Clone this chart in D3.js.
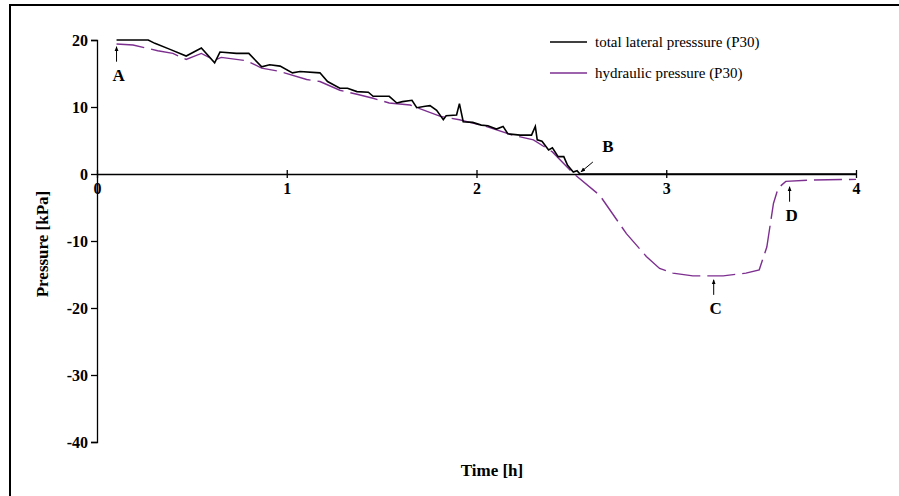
<!DOCTYPE html>
<html>
<head>
<meta charset="utf-8">
<script src="https://cdn.jsdelivr.net/npm/d3@7"></script>
<style>
  body { margin: 0; background: #fff; }
  svg { display: block; }
  text { font-family: "Liberation Serif", "DejaVu Serif", serif; }
</style>
</head>
<body>
<svg id="chart" width="899" height="496"></svg>
<script>
// total lateral pressure (P30) - time [h], pressure [kPa]
const totalTime = [0.103, 0.27, 0.305, 0.385, 0.47, 0.55, 0.62, 0.648, 0.735, 0.80, 0.868, 0.91, 0.965, 1.03, 1.07, 1.175, 1.215, 1.28, 1.32, 1.37, 1.43, 1.455, 1.54, 1.58, 1.61, 1.66, 1.685, 1.73, 1.755, 1.79, 1.825, 1.84, 1.895, 1.91, 1.93, 1.98, 2.025, 2.06, 2.105, 2.14, 2.165, 2.23, 2.29, 2.31, 2.32, 2.345, 2.38, 2.40, 2.43, 2.46, 2.48, 2.51, 2.53, 2.545, 4.0];
const totalPress = [20, 20, 19.5, 18.6, 17.6, 18.8, 16.6, 18.2, 18.0, 18.0, 16.0, 16.3, 16.1, 15.1, 15.3, 15.1, 13.8, 12.8, 12.8, 12.3, 12.2, 11.6, 11.6, 10.6, 10.8, 11.0, 9.9, 10.1, 10.2, 9.5, 8.1, 8.7, 8.8, 10.5, 7.8, 7.7, 7.3, 7.2, 6.7, 7.1, 6.0, 5.8, 5.8, 7.1, 5.1, 4.9, 3.6, 3.9, 2.6, 2.6, 1.3, 0.3, 0.5, 0, 0];

// hydraulic pressure (P30)
const hydTime = [0.103, 0.19, 0.32, 0.40, 0.47, 0.55, 0.62, 0.655, 0.79, 0.868, 0.965, 1.105, 1.175, 1.28, 1.37, 1.455, 1.54, 1.65, 1.81, 1.91, 2.05, 2.19, 2.30, 2.40, 2.51, 2.65, 2.79, 2.895, 2.965, 3.035, 3.14, 3.30, 3.42, 3.49, 3.53, 3.565, 3.59, 3.63, 3.76, 4.0];
const hydPress = [19.4, 19.25, 18.4, 18.0, 17.1, 18.0, 17.0, 17.4, 16.9, 15.8, 15.3, 14.1, 13.8, 12.5, 11.9, 11.3, 10.6, 10.3, 8.6, 8.1, 7.1, 5.8, 5.1, 3.3, 0.1, -3.2, -8.9, -12.3, -14.1, -14.8, -15.2, -15.2, -14.8, -14.3, -10.9, -4.4, -2.1, -1.1, -0.9, -0.8];

const xTicks = [0, 1, 2, 3, 4];
const yTicks = [20, 10, 0, -10, -20, -30, -40];

const seriesNames = ["total lateral presssure (P30)", "hydraulic pressure (P30)"];
const seriesColors = ["#000000", "#7d2f90"];

// point annotations: label, time, pressure at arrow tip, direction
const notes = [
  { label: "A", t: 0.103, p: 19.0, dir: "up" },
  { label: "B", t: 2.55, p: 0.3, dir: "diag" },
  { label: "C", t: 3.25, p: -15.8, dir: "up" },
  { label: "D", t: 3.65, p: -1.9, dir: "up" }
];

const svg = d3.select("#chart");

// outer frame (left and top edges)
svg.append("path")
  .attr("d", "M10,496V5H899")
  .attr("fill", "none")
  .attr("stroke", "#000")
  .attr("stroke-width", 2);

const x = d3.scaleLinear().domain([0, 4]).range([97, 856]);
const y = d3.scaleLinear().domain([-40, 20]).range([442, 40]);

// y axis
const gy = svg.append("g")
  .attr("transform", `translate(${x(0)},0)`)
  .call(d3.axisLeft(y).tickValues(yTicks).tickSize(6).tickFormat(d => String(d)));
gy.attr("font-family", null);
gy.select(".domain").attr("stroke-width", 1.3);
gy.selectAll(".tick line").attr("stroke-width", 1.3);
gy.selectAll(".tick text")
  .attr("x", -9)
  .style("font-size", "16px")
  .style("font-weight", "bold");

// x axis at zero
const gx = svg.append("g")
  .attr("transform", `translate(0,${y(0)})`)
  .call(d3.axisBottom(x).tickValues(xTicks).tickSizeInner(4).tickSizeOuter(0).tickFormat(d => String(d)));
gx.attr("font-family", null);
gx.select(".domain").attr("stroke-width", 1.3);
gx.selectAll(".tick line").attr("y1", -4).attr("y2", 4).attr("stroke-width", 1.3);
gx.selectAll(".tick text")
  .attr("y", 9)
  .style("font-size", "16px")
  .style("font-weight", "bold");

// axis titles
svg.append("text")
  .attr("transform", "translate(48,244) rotate(-90)")
  .attr("text-anchor", "middle")
  .style("font-size", "17px")
  .style("font-weight", "bold")
  .text("Pressure [kPa]");

svg.append("text")
  .attr("x", 492)
  .attr("y", 476)
  .attr("text-anchor", "middle")
  .style("font-size", "17px")
  .style("font-weight", "bold")
  .text("Time [h]");

const line = d3.line().x(d => x(d[0])).y(d => y(d[1]));

// hydraulic (dashed purple)
svg.append("path")
  .datum(d3.zip(hydTime, hydPress))
  .attr("d", line)
  .attr("fill", "none")
  .attr("stroke", seriesColors[1])
  .attr("stroke-width", 1.4)
  .attr("stroke-dasharray", "28,7");

// total lateral (solid black)
svg.append("path")
  .datum(d3.zip(totalTime, totalPress))
  .attr("d", line)
  .attr("fill", "none")
  .attr("stroke", seriesColors[0])
  .attr("stroke-width", 1.6);

// legend
const legend = svg.append("g").attr("transform", "translate(550,42)");
seriesNames.forEach((name, i) => {
  legend.append("line")
    .attr("x1", 0).attr("x2", 37)
    .attr("y1", i * 31).attr("y2", i * 31)
    .attr("stroke", seriesColors[i])
    .attr("stroke-width", 1.3);
  legend.append("text")
    .attr("x", 45)
    .attr("y", i * 31 + 5)
    .style("font-size", "15px")
    .text(name);
});

// annotations
svg.append("defs").append("marker")
  .attr("id", "arrow")
  .attr("viewBox", "0 0 10 10")
  .attr("refX", 9).attr("refY", 5)
  .attr("markerWidth", 5).attr("markerHeight", 5)
  .attr("orient", "auto")
  .append("path")
  .attr("d", "M0,1L10,5L0,9Z")
  .attr("fill", "#000");

notes.forEach(n => {
  const tx = x(n.t), ty = y(n.p);
  let sx, sy, lx, ly;
  if (n.dir === "up") {
    sx = tx; sy = ty + 15;
    lx = tx + 2; ly = ty + 34;
  } else {
    sx = tx + 12; sy = ty - 10;
    lx = tx + 27; ly = ty - 20;
  }
  svg.append("line")
    .attr("x1", sx).attr("y1", sy)
    .attr("x2", tx).attr("y2", ty)
    .attr("stroke", "#000")
    .attr("stroke-width", 1)
    .attr("marker-end", "url(#arrow)");
  svg.append("text")
    .attr("x", lx).attr("y", ly)
    .attr("text-anchor", "middle")
    .style("font-size", "17px")
    .style("font-weight", "bold")
    .text(n.label);
});
</script>
</body>
</html>
